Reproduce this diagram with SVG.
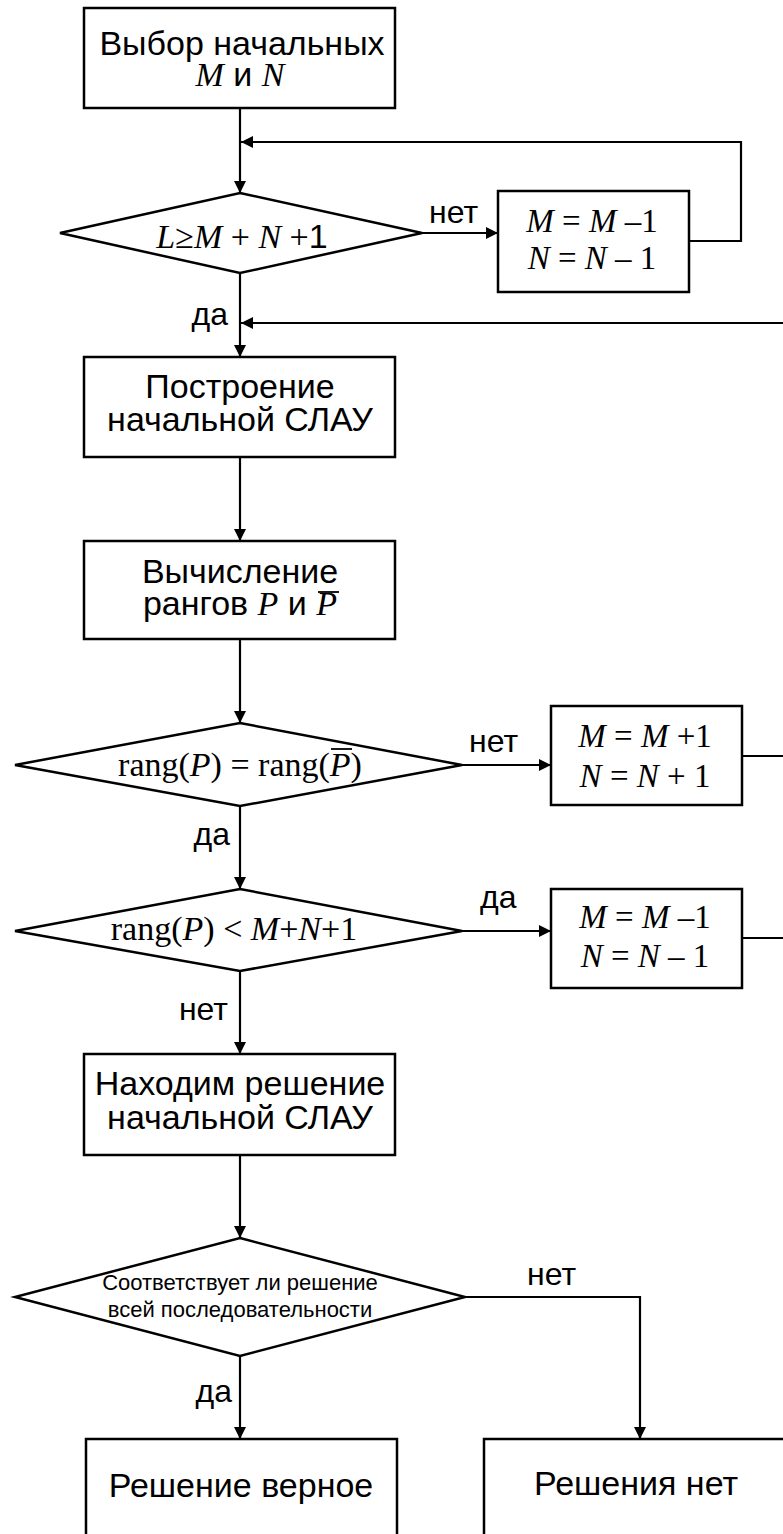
<svg xmlns="http://www.w3.org/2000/svg" width="783" height="1534" viewBox="0 0 783 1534">
<style>
.box{fill:#fff;stroke:#000;stroke-width:2.5}
.ln{fill:none;stroke:#000;stroke-width:2.2}
.ov{stroke:#000;stroke-width:1.8}
.s{font-family:"Liberation Sans",Arial,sans-serif;font-size:34px;fill:#000}
.m{font-family:"Liberation Serif","Times New Roman",serif;font-size:34px;fill:#000}
.f{font-family:"Liberation Serif","Times New Roman",serif;font-size:33px;fill:#000}
.i{font-style:italic}
.lbl{font-family:"Liberation Sans",Arial,sans-serif;font-size:32px;fill:#000}
.sm{font-family:"Liberation Sans",Arial,sans-serif;font-size:22px;fill:#000}
</style>
<defs>
<marker id="ah" viewBox="0 0 12 12" refX="12" refY="6" markerWidth="12" markerHeight="12" markerUnits="userSpaceOnUse" orient="auto">
<path d="M0,0 L12,6 L0,12 Z" fill="#000"/>
</marker>
</defs>
<rect width="783" height="1534" fill="#fff"/>
<g id="connectors">
<line class="ln" x1="240" y1="108" x2="240" y2="193" marker-end="url(#ah)"/>
<polyline class="ln" points="689,241 741,241 741,142 241,142" marker-end="url(#ah)"/>
<line class="ln" x1="422" y1="233" x2="498" y2="233" marker-end="url(#ah)"/>
<line class="ln" x1="240" y1="273" x2="240" y2="357" marker-end="url(#ah)"/>
<line class="ln" x1="785" y1="323" x2="241" y2="323" marker-end="url(#ah)"/>
<line class="ln" x1="240" y1="457" x2="240" y2="541" marker-end="url(#ah)"/>
<line class="ln" x1="240" y1="639" x2="240" y2="723" marker-end="url(#ah)"/>
<line class="ln" x1="462" y1="765" x2="551" y2="765" marker-end="url(#ah)"/>
<line class="ln" x1="742" y1="756" x2="785" y2="756"/>
<line class="ln" x1="240" y1="806" x2="240" y2="889" marker-end="url(#ah)"/>
<line class="ln" x1="462" y1="931" x2="551" y2="931" marker-end="url(#ah)"/>
<line class="ln" x1="742" y1="938" x2="785" y2="938"/>
<line class="ln" x1="240" y1="971" x2="240" y2="1054" marker-end="url(#ah)"/>
<line class="ln" x1="240" y1="1155" x2="240" y2="1238" marker-end="url(#ah)"/>
<line class="ln" x1="240" y1="1356" x2="240" y2="1439" marker-end="url(#ah)"/>
<polyline class="ln" points="465,1297 640,1297 640,1439" marker-end="url(#ah)"/>
<text class="lbl" x="429" y="223">нет</text>
<text class="lbl" x="228" y="325" text-anchor="end">да</text>
<text class="lbl" x="469" y="752">нет</text>
<text class="lbl" x="230" y="845" text-anchor="end">да</text>
<text class="lbl" x="480" y="908">да</text>
<text class="lbl" x="228" y="1020" text-anchor="end">нет</text>
<text class="lbl" x="527" y="1285">нет</text>
<text class="lbl" x="232" y="1402" text-anchor="end">да</text>
</g>
<g id="start">
<rect class="box" x="84" y="8" width="311" height="100"/>
<text class="s" x="242" y="55" text-anchor="middle">Выбор начальных</text>
<text class="m" x="240" y="86" text-anchor="middle"><tspan class="i">M</tspan><tspan class="s"> и </tspan><tspan class="i">N</tspan></text>
</g>
<g id="check1">
<polygon class="box" points="240,193 422,233 240,273 60,233"/>
<text class="m" x="242" y="248" text-anchor="middle"><tspan class="i">L</tspan>≥<tspan class="i">M</tspan> + <tspan class="i">N</tspan> +<tspan class="s">1</tspan></text>
</g>
<g id="dec1">
<rect class="box" x="498" y="191" width="191" height="101"/>
<text class="f" x="592" y="232" text-anchor="middle"><tspan class="i">M</tspan> = <tspan class="i">M</tspan> –1</text>
<text class="f" x="592" y="269" text-anchor="middle"><tspan class="i">N</tspan> = <tspan class="i">N</tspan> – 1</text>
</g>
<g id="build">
<rect class="box" x="84" y="357" width="311" height="100"/>
<text class="s" x="240" y="398" text-anchor="middle">Построение</text>
<text class="s" x="240" y="431" text-anchor="middle">начальной СЛАУ</text>
</g>
<g id="ranks">
<rect class="box" x="84" y="541" width="311" height="98"/>
<text class="s" x="240" y="583" text-anchor="middle">Вычисление</text>
<text class="s" x="240" y="615" text-anchor="middle">рангов <tspan class="m i">P</tspan> и <tspan class="m i">P</tspan></text>
<line class="ov" x1="318" y1="592" x2="339" y2="592"/>
</g>
<g id="check2">
<polygon class="box" points="240,723 462,765 240,806 15,765"/>
<text class="m" x="240" y="776" text-anchor="middle">rang(<tspan class="i">P</tspan>) = rang(<tspan class="i">P</tspan>)</text>
<line class="ov" x1="331" y1="749" x2="352" y2="749"/>
</g>
<g id="inc">
<rect class="box" x="551" y="706" width="191" height="99"/>
<text class="f" x="645" y="747" text-anchor="middle"><tspan class="i">M</tspan> = <tspan class="i">M</tspan> +1</text>
<text class="f" x="645" y="787" text-anchor="middle"><tspan class="i">N</tspan> = <tspan class="i">N</tspan> + 1</text>
</g>
<g id="check3">
<polygon class="box" points="240,889 462,931 240,971 15,931"/>
<text class="m" x="234" y="940" text-anchor="middle">rang(<tspan class="i">P</tspan>) &lt; <tspan class="i">M</tspan>+<tspan class="i">N</tspan>+1</text>
</g>
<g id="dec2">
<rect class="box" x="551" y="889" width="191" height="99"/>
<text class="f" x="645" y="928" text-anchor="middle"><tspan class="i">M</tspan> = <tspan class="i">M</tspan> –1</text>
<text class="f" x="645" y="967" text-anchor="middle"><tspan class="i">N</tspan> = <tspan class="i">N</tspan> – 1</text>
</g>
<g id="solve">
<rect class="box" x="84" y="1054" width="311" height="101"/>
<text class="s" x="240" y="1095" text-anchor="middle">Находим решение</text>
<text class="s" x="240" y="1129" text-anchor="middle">начальной СЛАУ</text>
</g>
<g id="check4">
<polygon class="box" points="240,1238 465,1297 240,1356 15,1297"/>
<text class="sm" x="240" y="1290" text-anchor="middle">Соответствует ли решение</text>
<text class="sm" x="240" y="1317" text-anchor="middle">всей последовательности</text>
</g>
<g id="ok">
<rect class="box" x="86" y="1439" width="311" height="110"/>
<text class="s" x="241" y="1497" text-anchor="middle">Решение верное</text>
</g>
<g id="none">
<rect class="box" x="484" y="1439" width="320" height="110"/>
<text class="s" x="636" y="1495" text-anchor="middle">Решения нет</text>
</g>
</svg>
